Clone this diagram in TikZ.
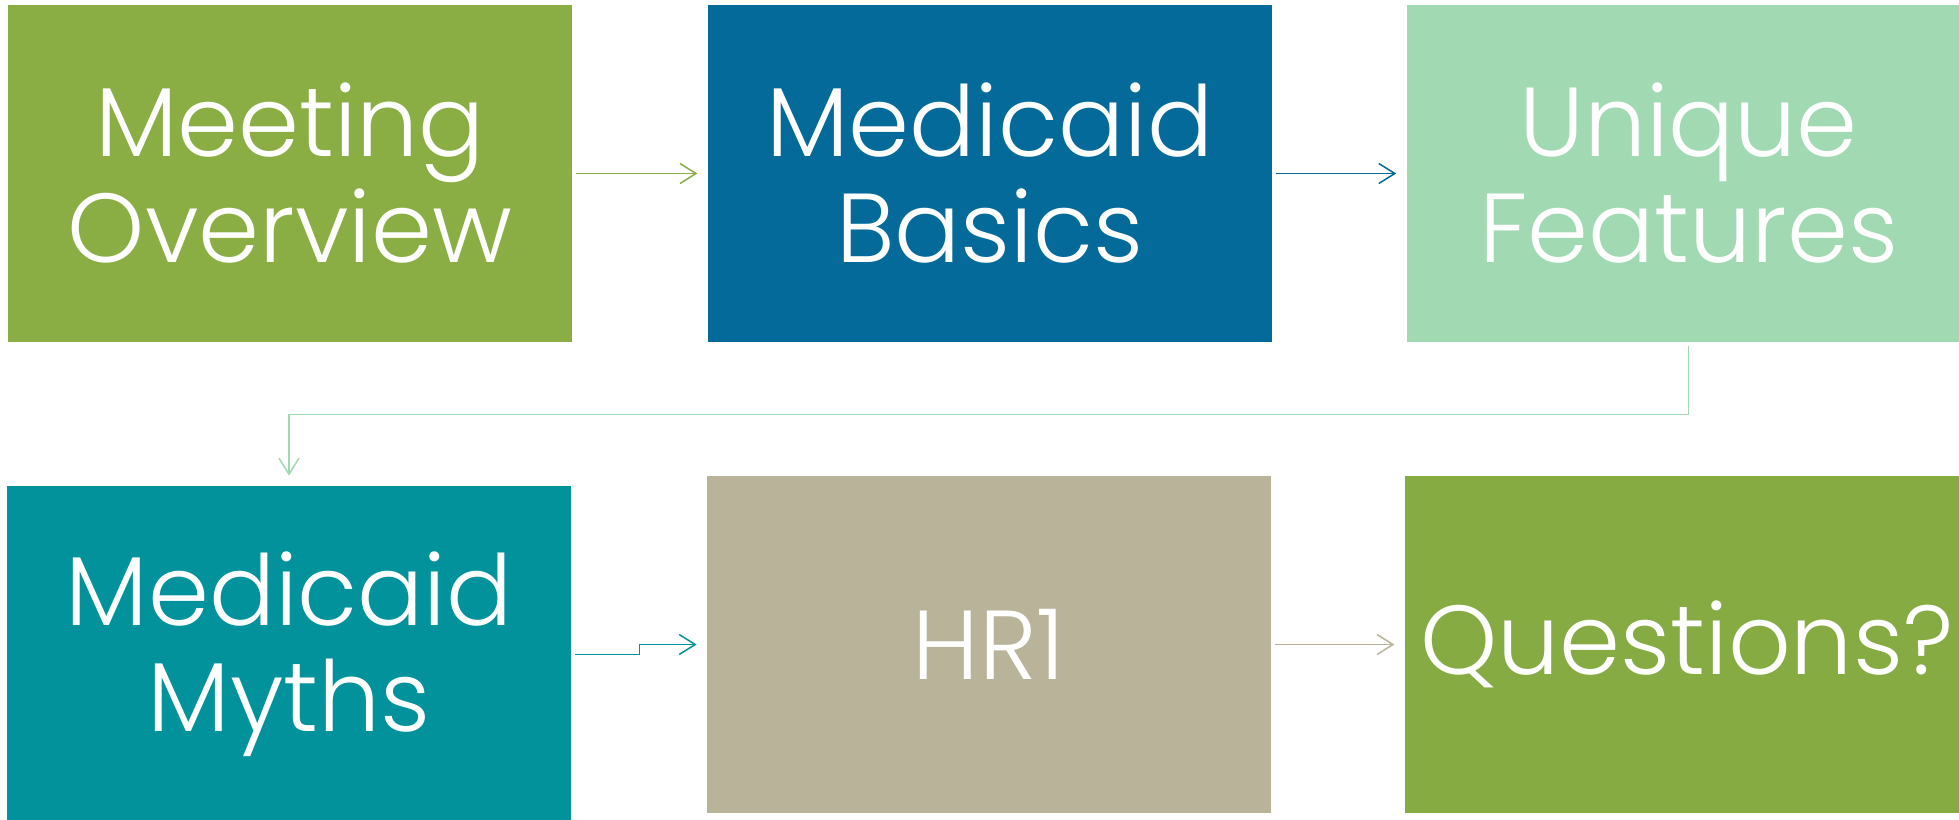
\documentclass[tikz,border=0pt]{standalone}
\usepackage{fontspec}
\setmainfont{Poppins Light}
\usetikzlibrary{positioning,arrows.meta}

\definecolor{olive}{RGB}{138,174,68}
\definecolor{deepblue}{RGB}{4,106,153}
\definecolor{mint}{RGB}{161,217,179}
\definecolor{teal}{RGB}{2,146,155}
\definecolor{sand}{RGB}{184,179,153}
\definecolor{leaf}{RGB}{134,171,66}

\begin{document}
\begin{tikzpicture}[x=0.5pt,y=-0.5pt,
				topic/.style = {rectangle, inner sep = 0pt, minimum width = 282pt, minimum height = 168.5pt,
					text = white, align = center, font = \fontsize{49}{53}\selectfont},
				link/.style = {line width = 0.75pt, shorten <= 2pt, shorten >= 5pt,
					-{Straight Barb[length=8pt,width=10pt,line width=0.75pt]}}]
				
				\useasboundingbox (0,0) rectangle (1959,819);
				
				\node[topic,fill=olive] at (290,173.5) (1) {Meeting\\Overview};
				\node[topic,fill=deepblue] [right = 67.5pt of 1] (2) {Medicaid\\Basics};
				\node[topic,fill=mint] [right = 67pt of 2] (3) {Unique\\Features};
				\node[topic,fill=teal] at (289,654.5) (4) {Medicaid\\Myths};
				\node[topic,fill=sand] at (989,644.5) (5) {HR1};
				\node[topic,fill=leaf] [right = 66.5pt of 5] (6) {Questions?};
				
				\draw[link,olive] (1) -- (2);
				\draw[link,deepblue] (2) -- (3);
				\draw[link,mint] (3.south) -- ++(0,72) -| (4.north);
				\draw[link,teal] (4.east) -- ++(68,0) |- (5.west);
				\draw[link,sand] (5) -- (6);
				
\end{tikzpicture}
\end{document}
